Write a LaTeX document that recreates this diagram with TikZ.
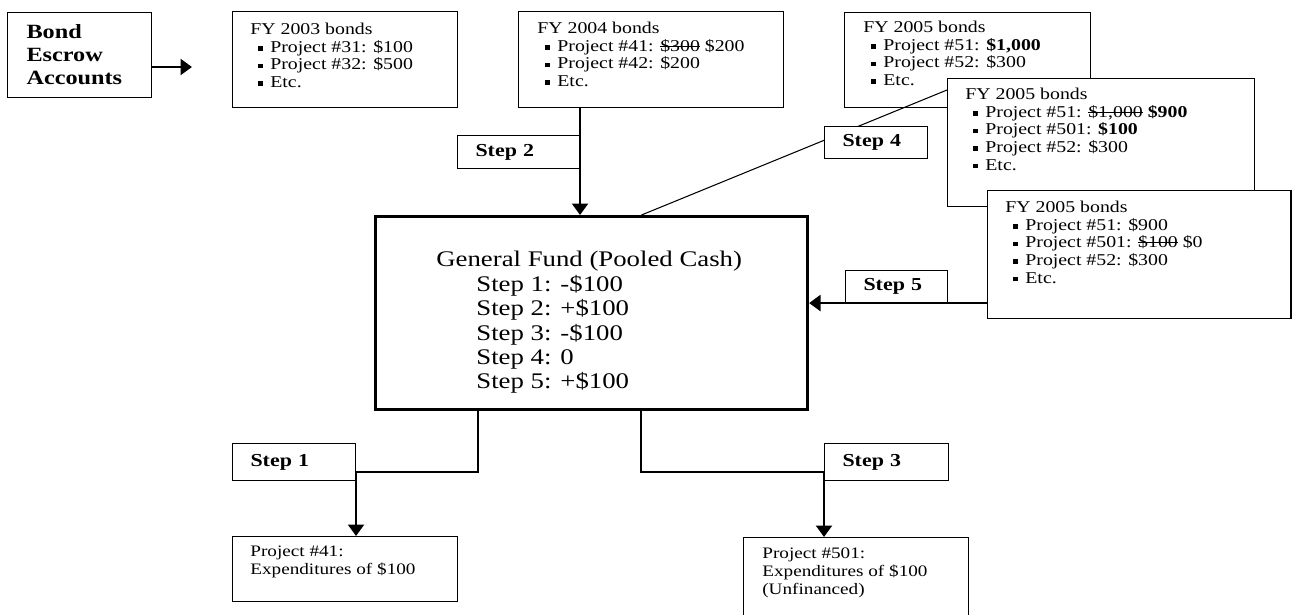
\documentclass[tikz,border=0pt]{standalone}
\usepackage{fontspec}
\setmainfont{Liberation Serif}[FakeStretch=1.2]
\usetikzlibrary{arrows.meta,calc}

% square bullet for the project lists
\newcommand{\itm}[1]{\hspace*{4.6pt}\rule[1pt]{2.6pt}{2.6pt}\hspace*{4.2pt}#1}
% struck-out amount
\newsavebox{\crossbox}
\newcommand{\crossout}[1]{\sbox{\crossbox}{#1}\rlap{\rule[0.3em]{\wd\crossbox}{0.45pt}}\usebox{\crossbox}}

\begin{document}
\begin{tikzpicture}[x=0.02cm,y=-0.02cm,
    acct/.style={draw, line width=0.6pt, fill=white, anchor=north west, inner sep=0pt},
    stepbox/.style={acct, align=left, inner xsep=0.36cm, font=\fontsize{10.4}{11}\selectfont\bfseries},
    listtxt/.style={anchor=north west, inner sep=0pt, align=left, font=\fontsize{9.4}{10}\selectfont},
    flow/.style={line width=1.5pt, -{Triangle[length=6.5pt,width=9pt]}},
    link/.style={line width=0.6pt}]
    \useasboundingbox (0,0) rectangle (1292,615);

    % escrow accounts, one box per bond year
    \node[acct, minimum width=2.88cm, minimum height=1.7cm, align=left, text width=2.12cm,
        inner xsep=0.38cm, font=\fontsize{11.5}{13.1}\selectfont\bfseries] (escrow) at (7,12)
        {Bond\\Escrow\\Accounts};
    \coordinate (escrowtip) at (192,67);
    \draw[flow] (escrow.east |- escrowtip) -- (escrowtip);

    \node[acct, minimum width=4.5cm, minimum height=1.92cm] (fy03) at (232,11) {};
    \node[listtxt] (fy03txt) at ($(fy03.north west)+(18,12)$)
        {FY 2003 bonds\\ \itm{Project \#31: \$100}\\ \itm{Project \#32: \$500}\\ \itm{Etc.}};

    \node[acct, minimum width=5.3cm, minimum height=1.92cm] (fy04) at (518,11) {};
    \node[listtxt] (fy04txt) at ($(fy04.north west)+(19,11)$)
        {FY 2004 bonds\\ \itm{Project \#41: \crossout{\$300} \$200}\\ \itm{Project \#42: \$200}\\ \itm{Etc.}};

    \node[acct, minimum width=4.92cm, minimum height=1.9cm] (fy05a) at (844,12) {};
    \node[listtxt] (fy05atxt) at ($(fy05a.north west)+(19,9)$)
        {FY 2005 bonds\\ \itm{Project \#51: \textbf{\$1,000}}\\ \itm{Project \#52: \$300}\\ \itm{Etc.}};

    \node[acct, minimum width=6.14cm, minimum height=2.56cm] (fy05b) at (947,78) {};
    \node[listtxt] (fy05btxt) at ($(fy05b.north west)+(18,10)$)
        {FY 2005 bonds\\ \itm{Project \#51: \crossout{\$1,000} \textbf{\$900}}\\ \itm{Project \#501: \textbf{\$100}}\\
         \itm{Project \#52: \$300}\\ \itm{Etc.}};

    \node[acct, minimum width=6.07cm, minimum height=2.56cm] (fy05c) at (987,190) {};
    \node[listtxt] (fy05ctxt) at ($(fy05c.north west)+(18,11)$)
        {FY 2005 bonds\\ \itm{Project \#51: \$900}\\ \itm{Project \#501: \crossout{\$100} \$0}\\
         \itm{Project \#52: \$300}\\ \itm{Etc.}};

    % pooled cash
    \node[acct, line width=1.8pt, minimum width=8.64cm, minimum height=3.86cm] (gf) at (374,215) {};
    \node[anchor=north west, inner sep=0pt, align=left, font=\fontsize{12.7}{13.9}\selectfont] (gftxt)
        at ($(gf.north west)+(62,36)$)
        {General Fund (Pooled Cash)\\ \hspace*{22.8pt}Step 1: -\$100\\ \hspace*{22.8pt}Step 2: +\$100\\
         \hspace*{22.8pt}Step 3: -\$100\\ \hspace*{22.8pt}Step 4: 0\\ \hspace*{22.8pt}Step 5: +\$100};

    % projects paid out
    \node[acct, minimum width=4.5cm, minimum height=1.3cm] (p41) at (232,536) {};
    \node[listtxt, font=\fontsize{9.1}{10.2}\selectfont] (p41txt) at ($(p41.north west)+(18,10)$)
        {Project \#41:\\ Expenditures of \$100};
    \node[acct, minimum width=4.5cm, minimum height=2.2cm] (p501) at (743,537) {};
    \node[listtxt, font=\fontsize{9.1}{10.2}\selectfont] (p501txt) at ($(p501.north west)+(19,11)$)
        {Project \#501:\\ Expenditures of \$100\\ (Unfinanced)};

    % steps
    \node[stepbox, minimum width=2.44cm, minimum height=0.66cm, text width=1.72cm] (step2) at (457,135) {Step 2};
    \node[stepbox, minimum width=2.04cm, minimum height=0.64cm, text width=1.32cm] (step5) at (845,270) {Step 5};
    \node[stepbox, minimum width=2.46cm, minimum height=0.74cm, text width=1.74cm] (step1) at (232,443) {Step 1};
    \node[stepbox, minimum width=2.48cm, minimum height=0.74cm, text width=1.76cm] (step3) at (824,443) {Step 3};

    \draw[flow] (step2.east |- fy04.south) -- (step2.east |- gf.north);
    \draw[flow] (fy05c.west |- step5.south) -- (gf.east |- step5.south);

    \coordinate (lknee) at (478,472);
    \draw[link] (gf.south -| lknee) -- (lknee) -- (step1.east |- lknee);
    \draw[flow] (step1.east |- lknee) -- (step1.east |- p41.north);

    \coordinate (rknee) at (641,472);
    \draw[link] (gf.south -| rknee) -- (rknee) -- (step3.west |- rknee);
    \draw[flow] (step3.west |- rknee) -- (step3.west |- p501.north);

    % step 4 runs behind its label
    \draw[link] ($(gf.north)+(50,0)$) -- ($(fy05b.north west)+(0,12)$);
    \node[stepbox, minimum width=2.06cm, minimum height=0.64cm, text width=1.34cm] (step4) at (824,126) {Step 4};
\end{tikzpicture}
\end{document}
